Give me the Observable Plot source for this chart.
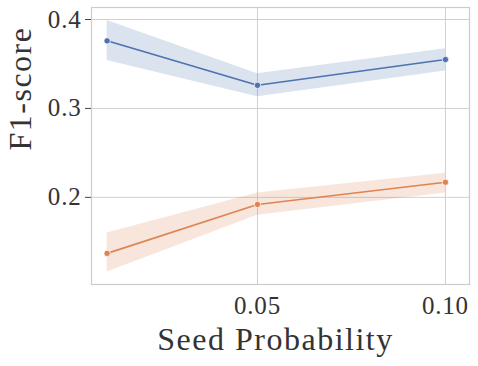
<!DOCTYPE html>
<html>
<head>
<meta charset="utf-8">
<script src="https://cdn.jsdelivr.net/npm/d3@7"></script>
<script src="https://cdn.jsdelivr.net/npm/@observablehq/plot@0.6"></script>
<style>
  html, body { margin: 0; padding: 0; background: #fff; }
  svg text { font-family: 'Liberation Serif', serif; }
  .lbl text { letter-spacing: 1.5px; }
  .tk text { letter-spacing: 0.8px; }
</style>
</head>
<body>
<div id="chart"></div>
<script>
const seedProb = [0.01, 0.05, 0.10];
const blueMean = [0.376, 0.326, 0.355];
const blueLow = [0.354, 0.313, 0.342];
const blueHigh = [0.399, 0.339, 0.367];
const orangeMean = [0.137, 0.192, 0.217];
const orangeLow = [0.116, 0.180, 0.205];
const orangeHigh = [0.160, 0.205, 0.227];
const xTicks = [0.05, 0.10];
const yTicks = [0.2, 0.3, 0.4];
const xLabel = "Seed Probability";
const yLabel = "F1-score";

const series = [
  {name: "A", color: "#4c72b0", mean: blueMean, low: blueLow, high: blueHigh},
  {name: "B", color: "#dd8452", mean: orangeMean, low: orangeLow, high: orangeHigh}
];
const rows = series.flatMap(s => seedProb.map((x, i) => ({
  series: s.name, color: s.color, x, y: s.mean[i], lo: s.low[i], hi: s.high[i]
})));

const font = "'Liberation Serif', serif";
const chart = Plot.plot({
  width: 478,
  height: 366,
  marginLeft: 91,
  marginRight: 9,
  marginTop: 7,
  marginBottom: 82,
  style: {fontFamily: font, background: "#fff"},
  x: {domain: [0.00585, 0.1064]},
  y: {domain: [0.102, 0.4135]},
  marks: [
    Plot.gridX(xTicks, {stroke: "#d0d0d0", strokeOpacity: 1, strokeWidth: 1}),
    Plot.gridY(yTicks, {stroke: "#d0d0d0", strokeOpacity: 1, strokeWidth: 1}),
    Plot.frame({stroke: "#cccccc", strokeWidth: 1.2}),
    Plot.axisY(yTicks, {tickFormat: d3.format(".1f"), tickSize: 6, tickPadding: 4, stroke: "#444", fontSize: 25, fill: "#333", fontFamily: font, label: null, className: "tk"}),
    Plot.axisX(xTicks, {tickFormat: d3.format(".2f"), tickSize: 0, tickPadding: 12, fontSize: 25, fill: "#333", fontFamily: font, label: null, className: "tk"}),
    Plot.areaY(rows, {x: "x", y1: "lo", y2: "hi", z: "series", fill: "color", fillOpacity: 0.2}),
    Plot.line(rows, {x: "x", y: "y", z: "series", stroke: "color", strokeWidth: 1.6}),
    Plot.dot(rows, {x: "x", y: "y", fill: "color", r: 3.2, stroke: "#fff", strokeWidth: 0.8}),
    Plot.text([xLabel], {frameAnchor: "bottom", dy: 65, dx: -5, text: d => d, fontSize: 32, fill: "#333", fontFamily: font, className: "lbl"}),
    Plot.text([yLabel], {frameAnchor: "left", dx: -71, dy: 4.5, rotate: -90, text: d => d, fontSize: 32, fill: "#333", fontFamily: font, className: "lbl"})
  ]
});
document.getElementById("chart").appendChild(chart);
</script>
</body>
</html>
